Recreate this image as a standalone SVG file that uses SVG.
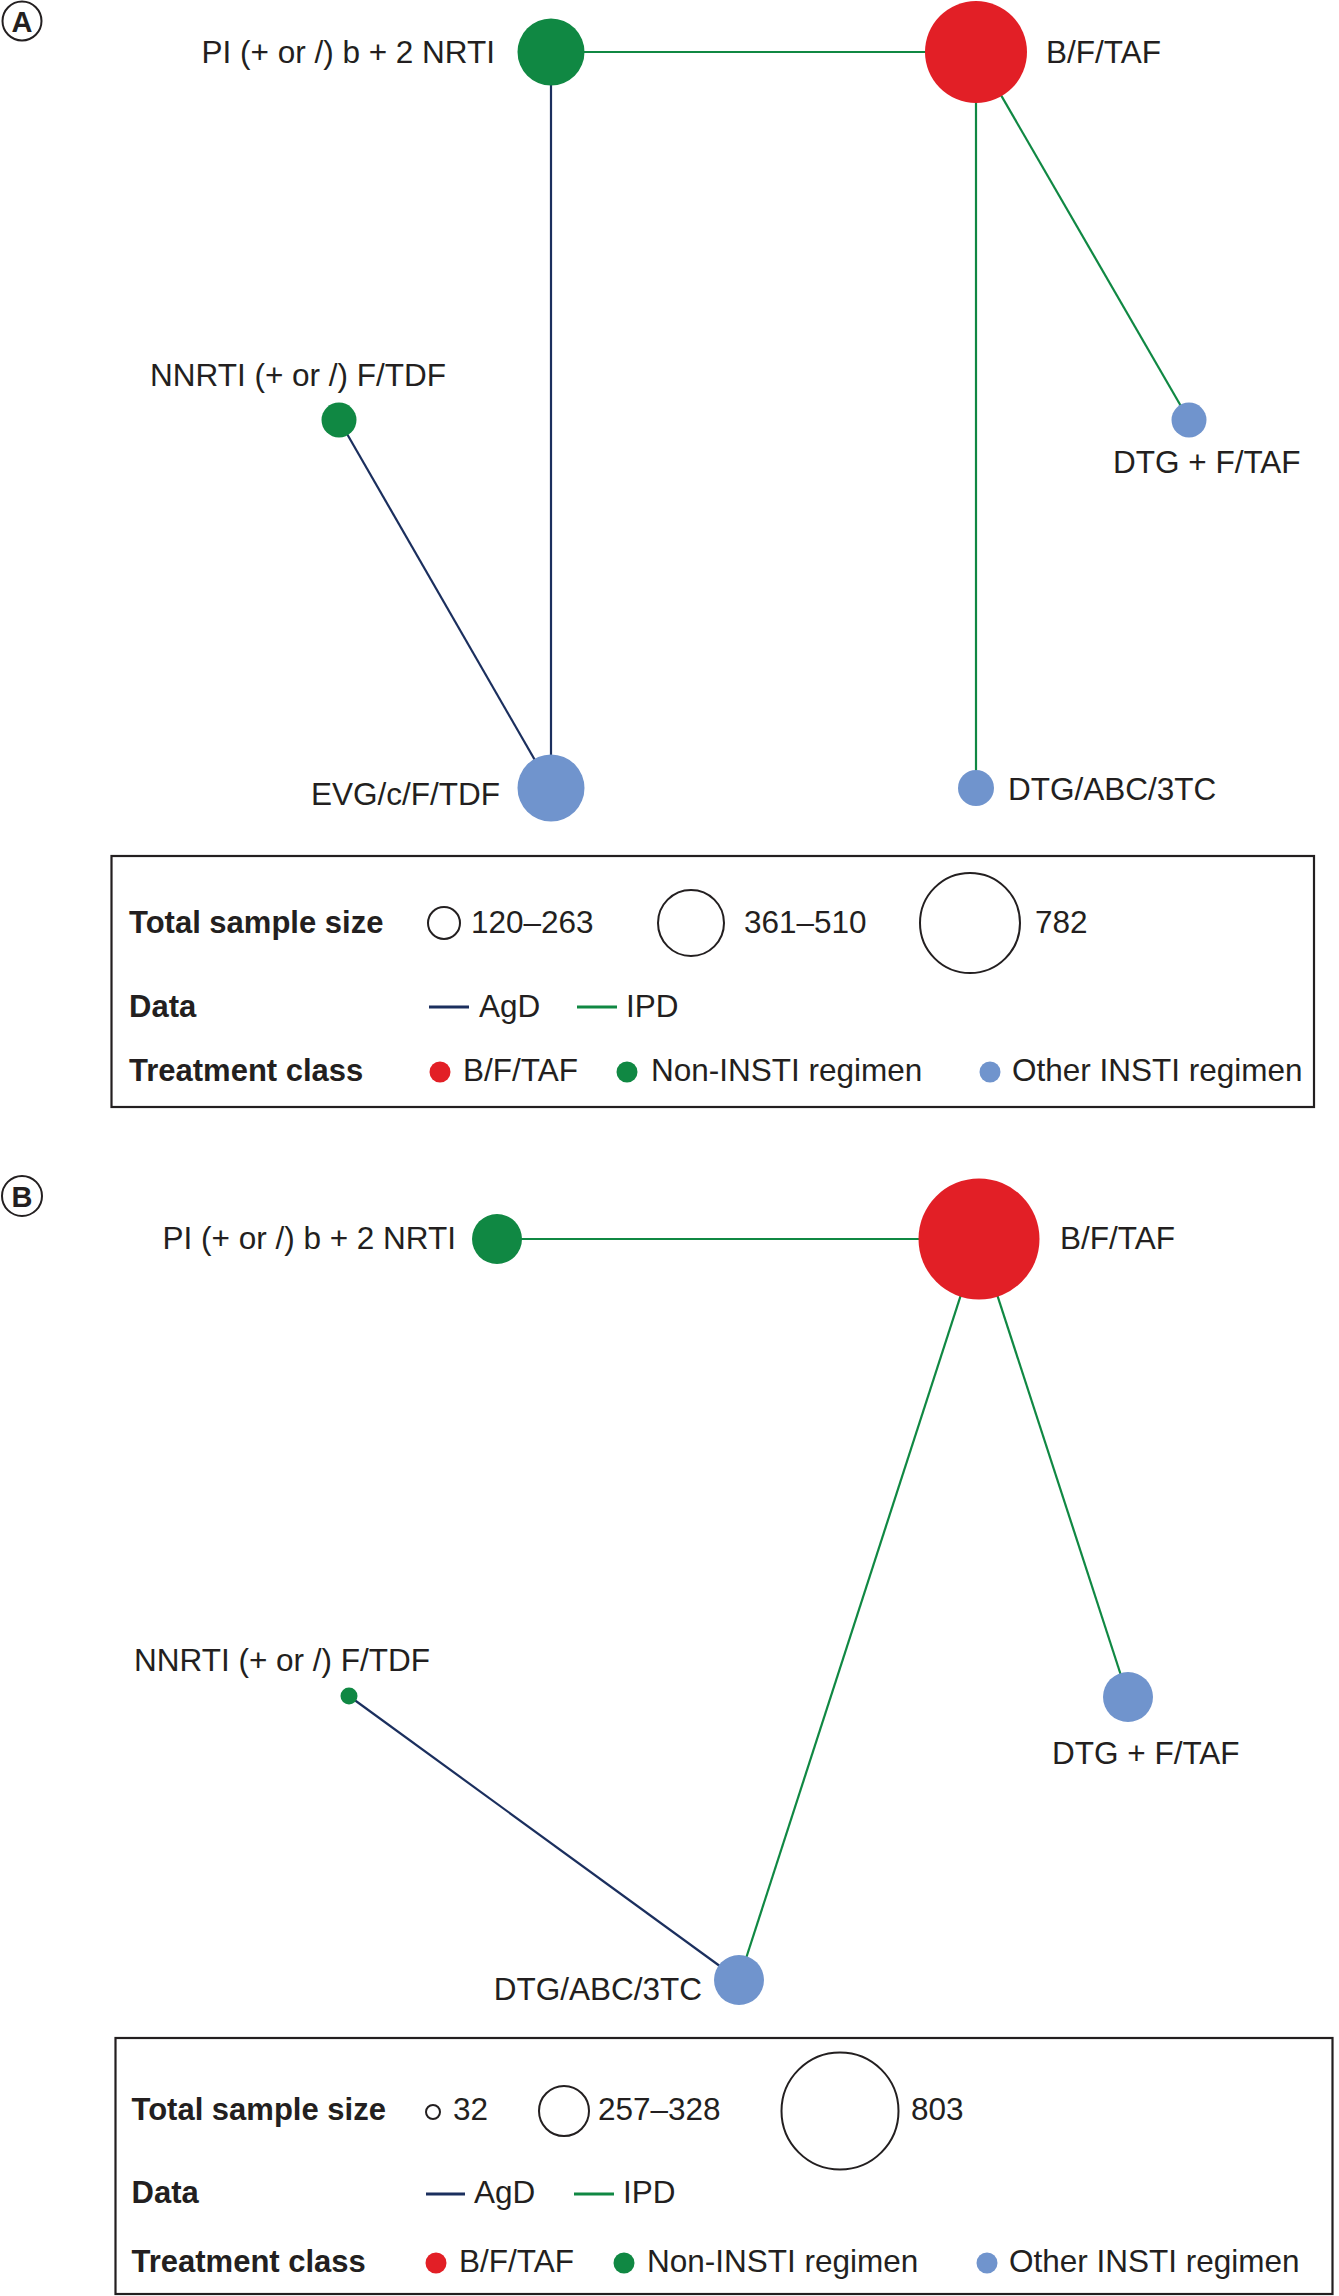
<svg xmlns="http://www.w3.org/2000/svg" width="1339" height="2296" viewBox="0 0 1339 2296">
<style>
.lbl{font-family:"Liberation Sans",Arial,sans-serif;font-size:31.5px;fill:#231F20}
.bold{font-family:"Liberation Sans",Arial,sans-serif;font-size:31px;font-weight:bold;fill:#231F20}
.panel{font-family:"Liberation Sans",Arial,sans-serif;font-size:29px;font-weight:bold;fill:#231F20}
.pc{fill:none;stroke:#231F20;stroke-width:2}
.red{fill:#E21F26}
.green{fill:#108843}
.blue{fill:#7094CD}
.agd{stroke:#1B2F5E;stroke-width:2.2;fill:none}
.ipd{stroke:#108843;stroke-width:2.2;fill:none}
.box{fill:none;stroke:#231F20;stroke-width:2.2}
.size{fill:none;stroke:#231F20;stroke-width:2}
</style>
<rect width="1339" height="2296" fill="#FFFFFF"/>

<!-- Panel A -->
<g id="panelA-label">
<circle class="pc" cx="22" cy="21" r="19.5"/>
<text class="panel" x="22" y="32" text-anchor="middle">A</text>
</g>
<g id="connectorsA">
<line class="ipd" x1="551" y1="52" x2="976" y2="52"/>
<line class="agd" x1="551" y1="52" x2="551" y2="788"/>
<line class="agd" x1="339" y1="420" x2="551" y2="788"/>
<line class="ipd" x1="976" y1="52" x2="1189" y2="420"/>
<line class="ipd" x1="976" y1="52" x2="976" y2="788"/>
</g>
<g id="A-PI">
<circle class="green" cx="551" cy="52" r="33.5"/>
<text class="lbl" x="495" y="63" text-anchor="end">PI (+ or /) b + 2 NRTI</text>
</g>
<g id="A-BFTAF">
<circle class="red" cx="976" cy="52" r="51"/>
<text class="lbl" x="1046" y="63">B/F/TAF</text>
</g>
<g id="A-NNRTI">
<circle class="green" cx="339" cy="420" r="17.5"/>
<text class="lbl" x="150" y="386">NNRTI (+ or /) F/TDF</text>
</g>
<g id="A-DTGFTAF">
<circle class="blue" cx="1189" cy="420" r="17.5"/>
<text class="lbl" x="1113" y="473">DTG + F/TAF</text>
</g>
<g id="A-EVG">
<circle class="blue" cx="551" cy="788" r="33.5"/>
<text class="lbl" x="500" y="805" text-anchor="end">EVG/c/F/TDF</text>
</g>
<g id="A-DTGABC">
<circle class="blue" cx="976" cy="788" r="18"/>
<text class="lbl" x="1008" y="800">DTG/ABC/3TC</text>
</g>
<g id="legendA">
<rect class="box" x="111.5" y="856" width="1202.5" height="251"/>
<text class="bold" x="129" y="933">Total sample size</text>
<circle class="size" cx="444" cy="923" r="16"/>
<text class="lbl" x="471" y="933">120–263</text>
<circle class="size" cx="691" cy="923" r="33"/>
<text class="lbl" x="744" y="933">361–510</text>
<circle class="size" cx="970" cy="923" r="50"/>
<text class="lbl" x="1035" y="933">782</text>
<text class="bold" x="129" y="1017">Data</text>
<line class="agd" x1="429" y1="1007" x2="469" y2="1007" style="stroke-width:3"/>
<text class="lbl" x="479" y="1017">AgD</text>
<line class="ipd" x1="577" y1="1007" x2="617" y2="1007" style="stroke-width:3"/>
<text class="lbl" x="626" y="1017">IPD</text>
<text class="bold" x="129" y="1081">Treatment class</text>
<circle class="red" cx="440" cy="1072" r="10.5"/>
<text class="lbl" x="463" y="1081">B/F/TAF</text>
<circle class="green" cx="627" cy="1072" r="10.5"/>
<text class="lbl" x="651" y="1081">Non-INSTI regimen</text>
<circle class="blue" cx="990" cy="1072" r="10.5"/>
<text class="lbl" x="1012" y="1081">Other INSTI regimen</text>
</g>

<!-- Panel B -->
<g id="panelB-label">
<circle class="pc" cx="22" cy="1196" r="20"/>
<text class="panel" x="22" y="1207" text-anchor="middle">B</text>
</g>
<g id="connectorsB">
<line class="ipd" x1="497" y1="1239" x2="979" y2="1239"/>
<line class="ipd" x1="979" y1="1239" x2="1128" y2="1697"/>
<line class="ipd" x1="979" y1="1239" x2="739" y2="1980"/>
<line class="agd" x1="349" y1="1696" x2="739" y2="1980"/>
</g>
<g id="B-PI">
<circle class="green" cx="497" cy="1239" r="25"/>
<text class="lbl" x="456" y="1249" text-anchor="end">PI (+ or /) b + 2 NRTI</text>
</g>
<g id="B-BFTAF">
<circle class="red" cx="979" cy="1239" r="60.5"/>
<text class="lbl" x="1060" y="1249">B/F/TAF</text>
</g>
<g id="B-NNRTI">
<circle class="green" cx="349" cy="1696" r="8.5"/>
<text class="lbl" x="134" y="1671">NNRTI (+ or /) F/TDF</text>
</g>
<g id="B-DTGFTAF">
<circle class="blue" cx="1128" cy="1697" r="25"/>
<text class="lbl" x="1052" y="1764">DTG + F/TAF</text>
</g>
<g id="B-DTGABC">
<circle class="blue" cx="739" cy="1980" r="25"/>
<text class="lbl" x="702" y="2000" text-anchor="end">DTG/ABC/3TC</text>
</g>
<g id="legendB">
<rect class="box" x="115.5" y="2038" width="1217" height="256"/>
<text class="bold" x="131.5" y="2120">Total sample size</text>
<circle class="size" cx="433" cy="2112" r="7"/>
<text class="lbl" x="453" y="2120">32</text>
<circle class="size" cx="564" cy="2111" r="25"/>
<text class="lbl" x="598" y="2120">257–328</text>
<circle class="size" cx="840" cy="2111" r="58.5"/>
<text class="lbl" x="911" y="2120">803</text>
<text class="bold" x="131.5" y="2203">Data</text>
<line class="agd" x1="426" y1="2194" x2="465" y2="2194" style="stroke-width:3"/>
<text class="lbl" x="474" y="2203">AgD</text>
<line class="ipd" x1="574" y1="2194" x2="614" y2="2194" style="stroke-width:3"/>
<text class="lbl" x="623" y="2203">IPD</text>
<text class="bold" x="131.5" y="2272">Treatment class</text>
<circle class="red" cx="436" cy="2263" r="10.5"/>
<text class="lbl" x="459" y="2272">B/F/TAF</text>
<circle class="green" cx="624" cy="2263" r="10.5"/>
<text class="lbl" x="647" y="2272">Non-INSTI regimen</text>
<circle class="blue" cx="987" cy="2263" r="10.5"/>
<text class="lbl" x="1009" y="2272">Other INSTI regimen</text>
</g>
</svg>
